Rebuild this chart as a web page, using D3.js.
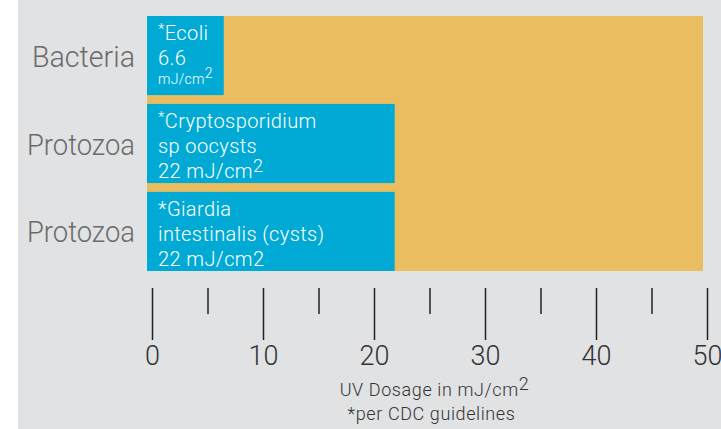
<!DOCTYPE html>
<html>
<head>
<meta charset="utf-8">
<script src="https://cdn.jsdelivr.net/npm/d3@7"></script>
<style>
  body { margin: 0; background: #fff; }
  svg { display: block; }
  text { font-family: Roboto, "Open Sans", sans-serif; font-weight: 300; }
</style>
</head>
<body>
<div id="chart"></div>
<script>
// chart data
const categories = ["Bacteria", "Protozoa", "Protozoa"];
const doses = [6.6, 22, 22];
const maxDose = 50;
const tickValues = [0, 5, 10, 15, 20, 25, 30, 35, 40, 45, 50];
const majorTicks = [0, 10, 20, 30, 40, 50];
// bar captions, one entry per line: [superscript prefix, text, superscript tail, small]
const barLines = [
  [["*", "Ecoli", "", false], ["", "6.6", "", false], ["", "mJ/cm", "2", true]],
  [["*", "Cryptosporidium", "", false], ["", "sp oocysts", "", false], ["", "22 mJ/cm", "2", false]],
  [["", "*Giardia", "", false], ["", "intestinalis (cysts)", "", false], ["", "22 mJ/cm2", "", false]]
];
const axisTitle = "UV Dosage in mJ/cm";
const footnote = "*per CDC guidelines";

const width = 721, height = 429;

const svg = d3.select("#chart")
    .append("svg")
    .attr("width", width)
    .attr("height", height);

// grey panel
svg.append("rect")
    .attr("x", 18).attr("y", 0)
    .attr("width", width - 18).attr("height", height)
    .attr("fill", "#e1e2e4");

// scales - bars and axis are slightly offset in the original
const xBar = d3.scaleLinear().domain([0, maxDose]).range([147, 703]);
const xAxis = d3.scaleLinear().domain([0, maxDose]).range([152, 707]);
const y = d3.scaleBand().domain(d3.range(categories.length)).range([16, 271]).paddingInner(0.1);

// orange background = full scale
svg.append("rect")
    .attr("x", xBar(0)).attr("y", 16)
    .attr("width", xBar(maxDose) - xBar(0)).attr("height", 271 - 16)
    .attr("fill", "#eabe60");

// blue bars
svg.selectAll(".bar")
    .data(doses)
    .join("rect")
    .attr("class", "bar")
    .attr("x", xBar(0))
    .attr("y", function (d, i) { return y(i); })
    .attr("width", function (d) { return xAxis(d) - 1.5 - xBar(0); })
    .attr("height", y.bandwidth())
    .attr("fill", "#00aad4");

// category labels
svg.selectAll(".cat")
    .data(categories)
    .join("text")
    .attr("class", "cat")
    .attr("x", 135)
    .attr("y", function (d, i) { return y(i) + y.bandwidth() / 2 + 11; })
    .attr("text-anchor", "end")
    .attr("fill", "#6a6a6a")
    .attr("font-size", 29)
    .attr("textLength", function (d) { return d === "Bacteria" ? 103 : 108; })
    .attr("lengthAdjust", "spacingAndGlyphs")
    .text(function (d) { return d; });

// captions inside bars
barLines.forEach(function (lines, i) {
    let base = y(i) + 24;
    lines.forEach(function (ln, j) {
        const small = ln[3];
        if (j > 0) base += small ? 19 : 25;
        const t = svg.append("text")
            .attr("x", xBar(0) + 11)
            .attr("y", base)
            .attr("fill", "#fff")
            .attr("letter-spacing", small ? 0.3 : 0.4)
            .attr("font-size", small ? 14 : 20);
        if (ln[0]) {
            t.append("tspan").attr("dy", -6).attr("font-size", 15).text(ln[0]);
            t.append("tspan").attr("dy", 6).text(ln[1]);
        } else {
            t.append("tspan").text(ln[1]);
        }
        if (ln[2]) {
            t.append("tspan").attr("dy", -6).attr("font-size", small ? 14 : 18).text(ln[2]);
        }
    });
});

// axis
const axis = svg.append("g")
    .attr("transform", "translate(0,288)")
    .call(d3.axisBottom(xAxis).tickValues(tickValues).tickSize(52).tickFormat(function (d) {
        return majorTicks.indexOf(d) >= 0 ? d : "";
    }));
axis.select(".domain").remove();
axis.selectAll(".tick line")
    .attr("stroke", "#222")
    .attr("stroke-width", 1.5)
    .attr("y2", function (d) { return majorTicks.indexOf(d) >= 0 ? 52 : 26; });
axis.selectAll(".tick text")
    .attr("y", 77)
    .attr("dy", 0)
    .attr("fill", "#333")
    .attr("font-size", 27)
    .attr("font-family", "Roboto, sans-serif")
    .attr("font-weight", 300);

// axis title and footnote
const title = svg.append("text")
    .attr("x", (xAxis(0) + xAxis(maxDose)) / 2 + 5)
    .attr("y", 396)
    .attr("text-anchor", "middle")
    .attr("fill", "#333")
    .attr("letter-spacing", 0.6)
    .attr("font-size", 18);
title.append("tspan").text(axisTitle);
title.append("tspan").attr("dy", -6).text("2");

svg.append("text")
    .attr("x", (xAxis(0) + xAxis(maxDose)) / 2 + 2)
    .attr("y", 420)
    .attr("text-anchor", "middle")
    .attr("fill", "#333")
    .attr("letter-spacing", 0.6)
    .attr("font-size", 18)
    .text(footnote);
</script>
</body>
</html>
